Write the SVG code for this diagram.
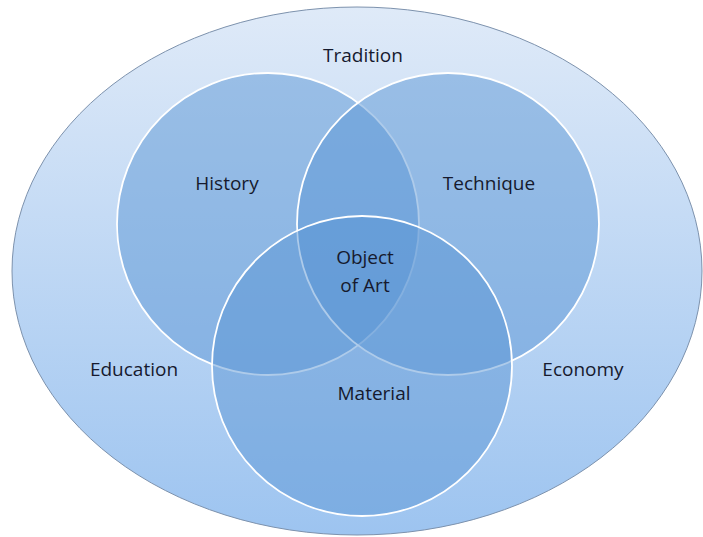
<svg xmlns="http://www.w3.org/2000/svg" width="703" height="537" viewBox="0 0 703 537">
  <defs>
    <linearGradient id="bg" x1="0" y1="0" x2="0" y2="1">
      <stop offset="0" stop-color="#dfeaf8"/>
      <stop offset="1" stop-color="#9dc4f0"/>
    </linearGradient>
    <style>
      .outer { fill: url(#bg); stroke: #7d92ad; stroke-width: 1; }
      .set { fill: rgb(89,148,213); fill-opacity: 0.49; stroke: #ffffff; stroke-width: 1.8; }
      .lbl { font-family: "Open Sans", "Liberation Sans", sans-serif; font-size: 19px; fill: #161a2e; text-anchor: middle; }
    </style>
  </defs>
  <rect width="703" height="537" fill="#ffffff"/>
  <g id="tradition">
    <ellipse class="outer" cx="357" cy="271" rx="345" ry="264"/>
    <text class="lbl" x="363" y="62">Tradition</text>
    <text class="lbl" x="134" y="376">Education</text>
    <text class="lbl" x="583" y="376">Economy</text>
  </g>
  <g id="history">
    <circle class="set" cx="268" cy="224" r="151"/>
  </g>
  <g id="technique">
    <circle class="set" cx="448" cy="224" r="151"/>
  </g>
  <g id="material">
    <circle class="set" cx="362" cy="366" r="150"/>
  </g>
  <g id="labels">
    <text class="lbl" x="227" y="190">History</text>
    <text class="lbl" x="489" y="190">Technique</text>
    <text class="lbl" x="365" y="264">Object</text>
    <text class="lbl" x="365" y="292">of Art</text>
    <text class="lbl" x="374" y="400">Material</text>
  </g>
  <g id="connectors"/>
</svg>
